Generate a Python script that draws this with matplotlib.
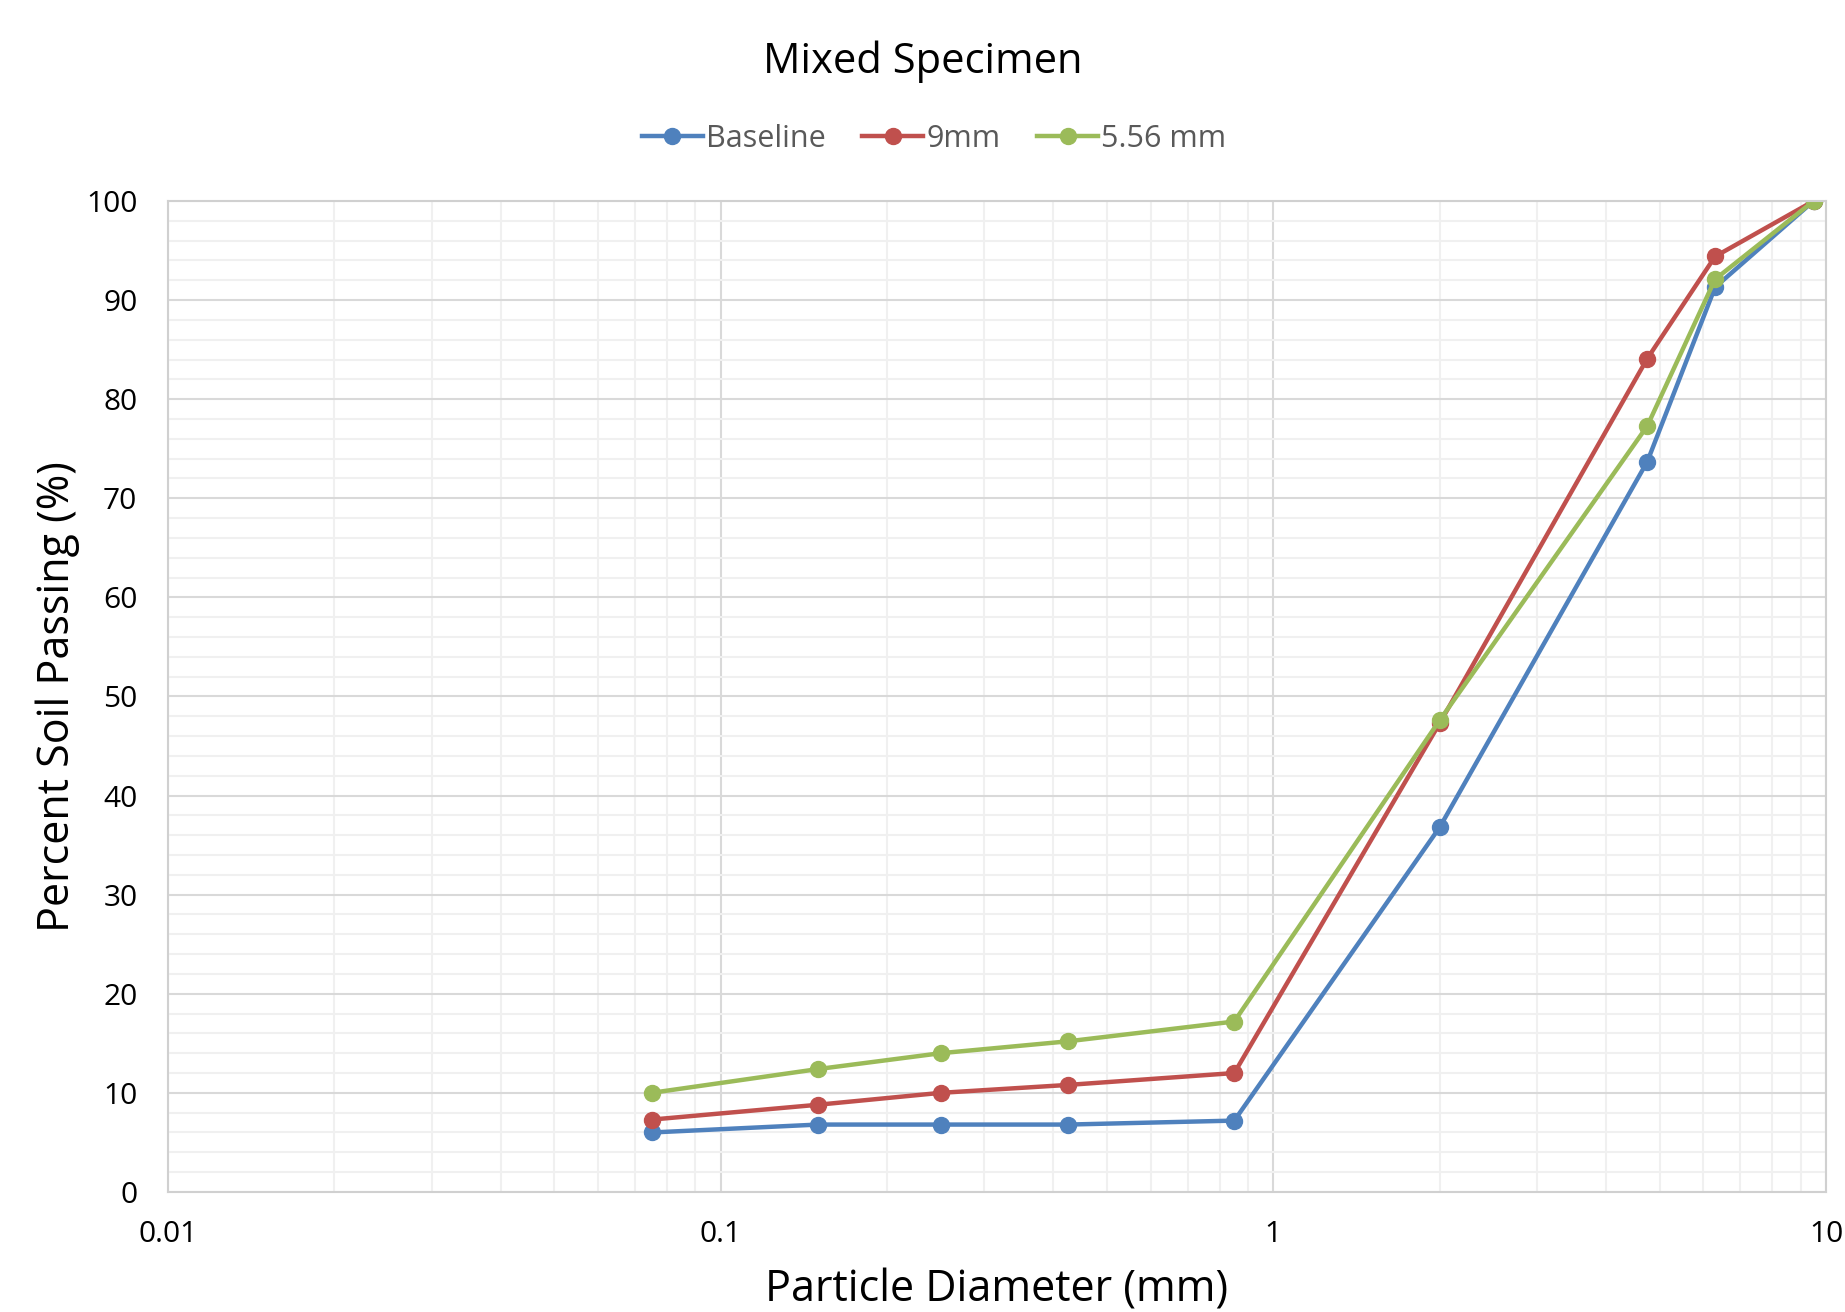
import matplotlib.pyplot as plt
from matplotlib.ticker import FixedLocator, MultipleLocator, LogLocator, NullFormatter, FuncFormatter

plt.rcParams['font.family'] = ['Open Sans', 'DejaVu Sans']

# sieve sizes (mm)
sizes = [0.075, 0.15, 0.25, 0.425, 0.85, 2.0, 4.75, 6.3, 9.5]

baseline = [6.0, 6.8, 6.8, 6.8, 7.2, 36.8, 73.7, 91.3, 100]
nine_mm = [7.3, 8.8, 10.0, 10.8, 12.0, 47.3, 84.1, 94.4, 100]
five_mm = [10.0, 12.4, 14.0, 15.2, 17.2, 47.6, 77.3, 92.1, 100]

series = [("Baseline", baseline, "#4F81BD"),
          ("9mm", nine_mm, "#C0504D"),
          ("5.56 mm", five_mm, "#9BBB59")]

fig, ax = plt.subplots(figsize=(18.45, 13.12), dpi=100)
fig.subplots_adjust(left=0.091, right=0.9897, top=0.8468, bottom=0.0915)

for name, vals, col in series:
    ax.plot(sizes, vals, color=col, lw=3.2, marker='o', ms=11.5, label=name)

ax.set_xscale('log')
ax.set_xlim(0.01, 10)
ax.set_ylim(0, 100)

ax.xaxis.set_major_locator(FixedLocator([0.01, 0.1, 1, 10]))
ax.xaxis.set_major_formatter(FuncFormatter(lambda v, p: f"{v:g}"))
ax.xaxis.set_minor_locator(LogLocator(base=10, subs=range(2, 10)))
ax.xaxis.set_minor_formatter(NullFormatter())
ax.yaxis.set_major_locator(MultipleLocator(10))
ax.yaxis.set_minor_locator(MultipleLocator(2))

ax.grid(which='major', color='#D9D9D9', lw=1.5)
ax.grid(which='minor', color='#F0F0F0', lw=1.5)
ax.set_axisbelow(True)

for s in ax.spines.values():
    s.set_color('#D0D0D0')
    s.set_linewidth(1.5)

ax.tick_params(which='both', length=0, labelsize=21.5, colors='black')
ax.tick_params(axis='x', pad=20)
ax.tick_params(axis='y', pad=22)

ax.set_xlabel("Particle Diameter (mm)", fontsize=31, labelpad=14)
ax.set_ylabel("Percent Soil Passing (%)", fontsize=31, labelpad=4)
fig.suptitle("Mixed Specimen", fontsize=30, y=0.969)

leg = ax.legend(loc='center', bbox_to_anchor=(0.462, 1.0625), ncol=3, frameon=False,
                fontsize=22, handlelength=2.0, handletextpad=0.1, columnspacing=1.2)
for t in leg.get_texts():
    t.set_color('#595959')

fig.savefig("out.png", dpi=100)
